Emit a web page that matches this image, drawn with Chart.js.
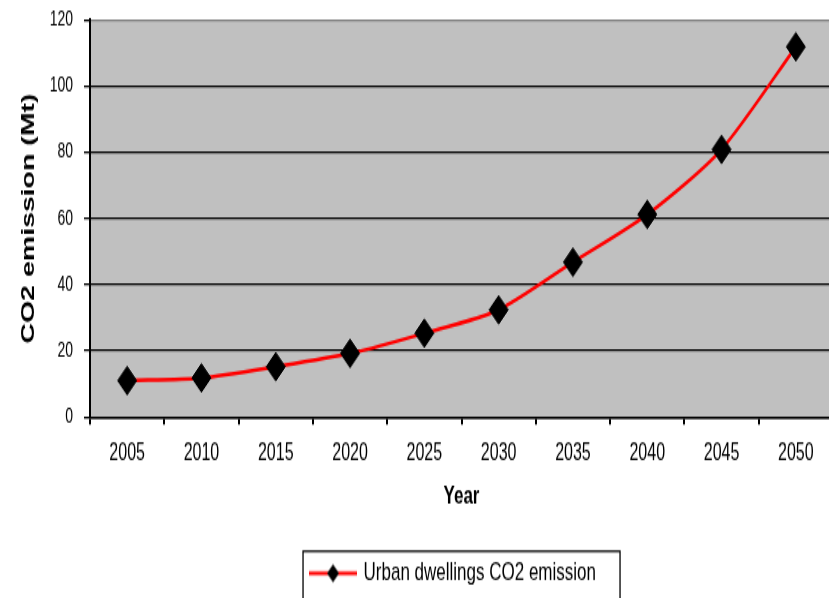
<!DOCTYPE html>
<html>
<head>
<meta charset="utf-8">
<script src="https://cdn.jsdelivr.net/npm/chart.js@4"></script>
<style>
  html, body { margin: 0; padding: 0; background: #fff; overflow: hidden; width: 829px; height: 598px; }
  #wrap { position: absolute; left: 0; top: 0; width: 835px; height: 399px;
          transform-origin: 0 0; transform: scaleY(1.49875); }
</style>
</head>
<body>
<div id="wrap"><canvas id="c" width="835" height="399"></canvas></div>
<script>
// Urban dwellings CO2 emission by year (Mt)
const years = ['2005', '2010', '2015', '2020', '2025', '2030', '2035', '2040', '2045', '2050'];
const emissions = [11, 11.8, 15.2, 19.2, 25.3, 32.4, 46.8, 61.2, 80.9, 111.9];
const yTicks = [0, 20, 40, 60, 80, 100, 120];
const seriesLabel = 'Urban dwellings CO2 emission';
const xTitle = 'Year';
const yTitle = 'CO2 emission (Mt)';

const FONT = 'Liberation Sans';

// legend symbol: red line with a black diamond
const sym = document.createElement('canvas');
sym.width = 48; sym.height = 14;
(function () {
  const g = sym.getContext('2d');
  g.strokeStyle = '#FF0000'; g.lineWidth = 2.5;
  g.beginPath(); g.moveTo(0, 7); g.lineTo(48, 7); g.stroke();
  g.fillStyle = '#000';
  g.beginPath(); g.moveTo(24, 1); g.lineTo(30, 7); g.lineTo(24, 13); g.lineTo(18, 7); g.closePath(); g.fill();
})();

const plotFrame = {
  id: 'plotFrame',
  beforeDraw(chart) {
    const { ctx, chartArea: a } = chart;
    ctx.save();
    ctx.fillStyle = '#C0C0C0';
    ctx.fillRect(a.left, a.top, a.right - a.left, a.bottom - a.top);
    ctx.restore();
  },
  afterLayout(chart) {
    // legend sits a little right of the canvas centre and slightly lower
    const lg = chart.legend;
    if (lg) { lg.left += 37; lg.right += 37; lg.top += 2; lg.bottom += 2; }
  },
  afterDraw(chart) {
    const lg = chart.legend;
    if (!lg || !lg.legendHitBoxes.length) return;
    const hb = lg.legendHitBoxes[0];
    const cy = hb.top + hb.height / 2;
    const { ctx } = chart;
    ctx.save();
    ctx.strokeStyle = '#000';
    ctx.lineWidth = 1.3;
    ctx.strokeRect(hb.left - 8, cy - 14.7, 317, 60);
    ctx.restore();
  }
};

new Chart(document.getElementById('c'), {
  type: 'line',
  data: {
    labels: years,
    datasets: [{
      label: seriesLabel,
      data: emissions,
      borderColor: '#FF0000',
      borderWidth: 2.5,
      tension: 0.25,
      pointStyle: 'rectRot',
      pointRadius: 9.5,
      pointBackgroundColor: '#000',
      pointBorderColor: '#000',
      pointBorderWidth: 1,
      clip: false
    }]
  },
  options: {
    responsive: false,
    animation: false,
    events: [],
    layout: { autoPadding: false, padding: { top: 13.34, right: 2, bottom: 0, left: 0 } },
    scales: {
      x: {
        type: 'category',
        offset: true,
        grid: { offset: true, drawOnChartArea: false, drawTicks: true, tickLength: 5, color: '#000', lineWidth: 2 },
        border: { color: '#000', width: 1.4 },
        ticks: { color: '#000', font: { family: FONT, size: 16 }, padding: 9.5, maxRotation: 0, autoSkip: false },
        title: { display: true, text: xTitle, color: '#000', font: { family: FONT, size: 17, weight: 'bold' }, padding: { top: 0, bottom: 24.9 } },
        afterFit(s) { s.height = 87.8; s.paddingLeft = 0; s.paddingRight = 0; }
      },
      y: {
        min: yTicks[0],
        max: yTicks[yTicks.length - 1],
        afterBuildTicks(s) { s.ticks = yTicks.map(v => ({ value: v })); },
        grid: {
          color: c => (c.tick && c.tick.value === yTicks[yTicks.length - 1]) ? '#808080' : '#000',
          tickColor: '#000',
          lineWidth: 1.3,
          tickLength: 6,
          drawTicks: true
        },
        border: { color: '#000', width: 2 },
        ticks: { color: '#000', font: { family: FONT, size: 14 }, padding: 11 },
        title: { display: true, text: yTitle, color: '#000', font: { family: FONT, size: 19, weight: 'bold' }, padding: { top: 17, bottom: 0 } },
        afterFit(s) { s.width = 90; s.paddingTop = 0; s.paddingBottom = 0; }
      }
    },
    plugins: {
      tooltip: { enabled: false },
      legend: {
        position: 'bottom',
        labels: {
          usePointStyle: true,
          pointStyle: sym,
          pointStyleWidth: 44,
          color: '#000',
          font: { family: FONT, size: 17 },
          padding: 6
        }
      }
    }
  },
  plugins: [plotFrame]
});
</script>
</body>
</html>
